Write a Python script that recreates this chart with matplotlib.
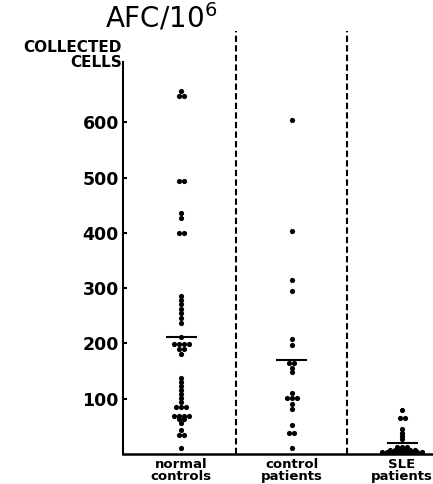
import numpy as np
import matplotlib
matplotlib.use("Agg")
import matplotlib.pyplot as plt

# AFC per 10^6 collected cells, one entry per dot
normal_controls = [656, 647, 647, 494, 494, 436, 427, 400, 400,
                   286, 278, 271, 262, 255, 246, 237, 212,
                   199, 199, 199, 199, 190, 190, 181,
                   137, 130, 123, 116, 108, 101, 94, 85, 85, 85,
                   69, 69, 69, 69, 63, 63, 56, 43, 34, 34, 11]
control_patients = [604, 404, 315, 295, 208, 197, 164, 164, 156, 148,
                    110, 101, 101, 101, 90, 81, 52, 38, 38, 11]
sle_patients = [80, 66, 66, 45, 38, 33, 27,
                13, 13, 13, 8, 8, 8, 8, 8, 8,
                3, 3, 3, 3, 3, 3, 3, 3, 3]
group_means = [211, 170, 20]
groups = [normal_controls, control_patients, sle_patients]
group_labels = ["normal\ncontrols", "control\npatients", "SLE\npatients"]
y_ticks = [100, 200, 300, 400, 500, 600]

W, H = 433, 484
fig = plt.figure(figsize=(W / 100, H / 100), dpi=100)
ax = fig.add_axes([123 / W, (H - 454) / H, (W - 123) / W, 423 / H])

# dot plot: equal values are spread side by side
step = 0.045
for pos, vals in enumerate(groups):
    vals = np.array(vals, dtype=float)
    xs = np.zeros_like(vals)
    for v in np.unique(vals):
        idx = np.where(vals == v)[0]
        xs[idx] = pos + (np.arange(len(idx)) - (len(idx) - 1) / 2) * step
    ax.scatter(xs, vals, s=14, color="black", linewidths=0, zorder=3)

ax.hlines(group_means, np.arange(3) - 0.14, np.arange(3) + 0.14,
          color="black", lw=1.5, zorder=4)

# dashed separators
for xsep in [0.5, 1.5]:
    ax.axvline(xsep, color="black", lw=1.5, ls=(0, (3, 1.6)))

ax.set_xlim(-0.527, 2.28)
ax.set_ylim(0, 765)
ax.spines["top"].set_visible(False)
ax.spines["right"].set_visible(False)
ax.spines["left"].set_bounds(0, 709)
ax.spines["left"].set_linewidth(1.5)
ax.spines["bottom"].set_linewidth(1.8)

ax.set_yticks(y_ticks)
ax.set_yticklabels([str(t) for t in y_ticks], fontsize=12.5, fontweight="bold")
ax.tick_params(axis="y", direction="in", length=3, width=1.5, pad=3)
ax.set_xticks(range(3))
ax.set_xticklabels(group_labels, fontsize=9.5, fontweight="bold", linespacing=0.85)
ax.tick_params(axis="x", length=0, pad=3)

fig.text(105 / W, 1 - 27 / H, "AFC/10$^6$", fontsize=20, va="baseline", ha="left")
fig.text(122 / W, 1 - 52 / H, "COLLECTED", fontsize=11, fontweight="bold",
         va="baseline", ha="right")
fig.text(122 / W, 1 - 67 / H, "CELLS", fontsize=11, fontweight="bold",
         va="baseline", ha="right")

fig.savefig("out.png", dpi=100)
